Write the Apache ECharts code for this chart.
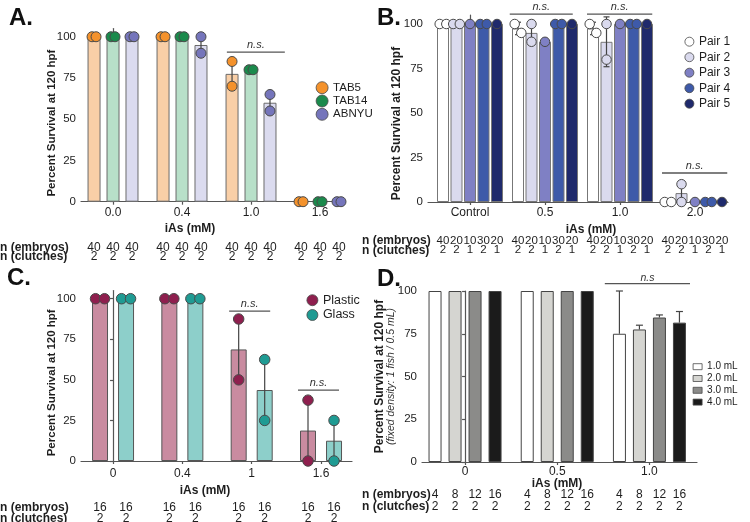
<!DOCTYPE html>
<html>
<head>
<meta charset="utf-8">
<script src="https://cdn.jsdelivr.net/npm/echarts@6/dist/echarts.min.js"></script>
<style>
html,body{margin:0;padding:0;background:#fff;}
#main{width:750px;height:522px;}
</style>
</head>
<body>
<div id="main"></div>
<script>
// ---------- A. strains ----------
let catsA = ['0.0', '0.4', '1.0', '1.6'];
let tab5Mean = [100, 100, 77.5, 0];
let tab5Err = [0, 0, 7.5, 0];
let tab5Pts = [[100, 100], [100, 100], [85, 70], [0, 0]];
let tab14Mean = [100, 100, 80, 0];
let tab14Err = [0, 0, 0, 0];
let tab14Pts = [[100, 100], [100, 100], [80, 80], [0, 0]];
let abnyuMean = [100, 95, 60, 0];
let abnyuErr = [0, 5, 5, 0];
let abnyuPts = [[100, 100], [100, 90], [65, 55], [0, 0]];
let embryosA = [[40, 40, 40], [40, 40, 40], [40, 40, 40], [40, 40, 40]];
let clutchesA = [[2, 2, 2], [2, 2, 2], [2, 2, 2], [2, 2, 2]];
let nsA = [[1.65, 2.49, 90.7]];

// ---------- B. pairs ----------
let catsB = ['Control', '0.5', '1.0', '2.0'];
let pair1Mean = [100, 97.5, 97.5, 0];
let pair1Err = [0, 3.5, 3.5, 0];
let pair1Pts = [[100, 100], [100, 95], [100, 95], [0, 0]];
let pair2Mean = [100, 95, 90, 5];
let pair2Err = [0, 7, 14, 7];
let pair2Pts = [[100, 100], [100, 90], [100, 80], [10, 0]];
let pair3Mean = [100, 90, 100, 0];
let pair3Err = [0, 0, 0, 0];
let pair3Pts = [[100], [90], [100], [0]];
let pair4Mean = [100, 100, 100, 0];
let pair4Err = [0, 0, 0, 0];
let pair4Pts = [[100, 100], [100, 100], [100, 100], [0, 0]];
let pair5Mean = [100, 100, 100, 0];
let pair5Err = [0, 0, 0, 0];
let pair5Pts = [[100], [100], [100], [0]];
let embryosB = [[40, 20, 10, 30, 20], [40, 20, 10, 30, 20], [40, 20, 10, 30, 20], [40, 20, 10, 30, 20]];
let clutchesB = [[2, 2, 1, 2, 1], [2, 2, 1, 2, 1], [2, 2, 1, 2, 1], [2, 2, 1, 2, 1]];
let nsB = [[0.53, 1.37, 105.6], [1.56, 2.43, 105.6], [2.56, 3.43, 16.3]];

// ---------- C. dish material ----------
let catsC = ['0', '0.4', '1', '1.6'];
let plasticMean = [100, 100, 68.75, 18.75];
let plasticErr = [0, 0, 18.75, 18.75];
let plasticPts = [[100, 100], [100, 100], [87.5, 50], [37.5, 0]];
let glassMean = [100, 100, 43.75, 12.5];
let glassErr = [0, 0, 18.75, 12.5];
let glassPts = [[100, 100], [100, 100], [62.5, 25], [25, 0]];
let embryosC = [[16, 16], [16, 16], [16, 16], [16, 16]];
let clutchesC = [[2, 2], [2, 2], [2, 2], [2, 2]];
let nsC = [[1.675, 2.267, 92.4], [2.668, 3.26, 43.7]];

// ---------- D. volume ----------
let catsD = ['0', '0.5', '1.0'];
let ml1Mean = [100, 100, 75];
let ml1Err = [0, 0, 25];
let ml2Mean = [100, 100, 77.5];
let ml2Err = [0, 0, 2.5];
let ml3Mean = [100, 100, 84.5];
let ml3Err = [0, 0, 1.5];
let ml4Mean = [100, 100, 81.5];
let ml4Err = [0, 0, 6.5];
let embryosD = [[4, 8, 12, 16], [4, 8, 12, 16], [4, 8, 12, 16]];
let clutchesD = [[2, 2, 2, 2], [2, 2, 2, 2], [2, 2, 2, 2]];
let nsD = [[1.516, 2.44, 104.3]];

let fontFam = '"Liberation Sans", Arial, Helvetica, sans-serif';
let txt = '#1e1e1e';
let axisCol = '#555';

let option = {
    animation: false,
    backgroundColor: '#fff',
    textStyle: {fontFamily: fontFam},
    title: [], legend: [], grid: [], xAxis: [], yAxis: [], series: []
};

function errRender(cap, upOnly) {
    return function (params, api) {
        let x = api.value(0), m = api.value(1), e = api.value(2);
        let top = api.coord([x, m + e]);
        let bot = api.coord([x, upOnly ? m : m - e]);
        let st = {stroke: '#444', lineWidth: 1.2};
        let kids = [{type: 'line', shape: {x1: top[0], y1: top[1], x2: bot[0], y2: bot[1]}, style: st}];
        if (cap) {
            kids.push({type: 'line', shape: {x1: top[0] - cap / 2, y1: top[1], x2: top[0] + cap / 2, y2: top[1]}, style: st});
            if (!upOnly) kids.push({type: 'line', shape: {x1: bot[0] - cap / 2, y1: bot[1], x2: bot[0] + cap / 2, y2: bot[1]}, style: st});
        }
        return {type: 'group', children: kids};
    };
}

function nsRender(label, fs, lift) {
    return function (params, api) {
        let a = api.coord([api.value(0), api.value(2)]);
        let b = api.coord([api.value(1), api.value(2)]);
        return {type: 'group', children: [
            {type: 'line', shape: {x1: a[0], y1: a[1], x2: b[0], y2: b[1]}, style: {stroke: '#555', lineWidth: 1.3}},
            {type: 'text', x: (a[0] + b[0]) / 2, y: a[1] - lift,
             style: {text: label, fontSize: fs, fontStyle: 'italic', fontFamily: fontFam, fill: '#333', align: 'center', verticalAlign: 'bottom'}}
        ]};
    };
}

function nRender(fs) {
    return function (params, api) {
        let c = api.coord([api.value(0), api.value(1)]);
        return {type: 'text', x: c[0], y: c[1],
            style: {text: String(api.value(2)), fontSize: fs, fontFamily: fontFam, fill: txt, align: 'center', verticalAlign: 'middle'}};
    };
}

function addPanel(p) {
    let gi = option.grid.length;
    option.grid.push({left: p.left, top: p.top, width: p.width, height: p.height, outerBoundsMode: 'none'});
    option.grid.push({left: p.left, top: p.nTop, width: p.width, height: p.nHeight, outerBoundsMode: 'none'});
    let ticks = p.cats.map(function (c, i) { return i; });
    let ppu = p.width / (p.xMax - p.xMin);
    option.xAxis.push({
        type: 'value', gridIndex: gi, min: p.xMin, max: p.xMax,
        axisLine: {show: true, onZero: false, lineStyle: {color: axisCol, width: 1.2}},
        axisTick: {show: true, length: 3, customValues: ticks, lineStyle: {color: axisCol, width: 1.2}},
        axisLabel: {customValues: ticks, formatter: function (v) { return p.cats[Math.round(v)]; },
            fontSize: 12, color: txt, margin: p.catMargin},
        splitLine: {show: false},
        name: 'iAs (mM)', nameLocation: 'middle', nameGap: p.xNameGap, nameMoveOverlap: false,
        nameTextStyle: {fontSize: 12, fontWeight: 'bold', color: txt, padding: p.xNamePad}
    });
    option.xAxis.push({type: 'value', gridIndex: gi + 1, min: p.xMin, max: p.xMax, show: false});
    option.yAxis.push({
        type: 'value', gridIndex: gi, min: 0, max: p.yMax,
        axisLine: {show: true, lineStyle: {color: axisCol, width: 1.2}},
        axisTick: {show: true, length: 3, customValues: [0, 25, 50, 75, 100], lineStyle: {color: axisCol, width: 1.2}},
        axisLabel: {customValues: [0, 25, 50, 75, 100], fontSize: 11.5, color: txt, margin: 5},
        splitLine: {show: false},
        name: p.yName, nameLocation: 'middle', nameRotate: 90, nameGap: p.yNameGap, nameMoveOverlap: false,
        nameTextStyle: p.yNameStyle
    });
    option.yAxis.push({
        type: 'category', gridIndex: gi + 1, inverse: true, data: ['n (embryos)', 'n (clutches)'],
        axisLine: {show: false}, axisTick: {show: false}, splitLine: {show: false},
        axisLabel: {interval: 0, hideOverlap: false, align: 'left', margin: p.left - p.headX,
            fontSize: 12, fontWeight: 'bold', color: txt}
    });

    let nData = [];
    p.sets.forEach(function (s, k) {
        let off = p.offsets[k];
        option.series.push({
            name: s.name + (s.pts ? ' mean' : ''), type: 'bar', xAxisIndex: gi, yAxisIndex: gi,
            barWidth: p.barWidth, barGap: '-100%', z: 2,
            itemStyle: {color: s.bar, borderColor: s.border, borderWidth: 1},
            data: s.mean.map(function (v, i) { return [i + off, v]; })
        });
        let errData = [];
        s.err.forEach(function (e, i) { if (e > 0) errData.push([i + off, s.mean[i], e]); });
        option.series.push({
            type: 'custom', xAxisIndex: gi, yAxisIndex: gi, z: 3, silent: true,
            renderItem: errRender(p.cap, p.upOnly), encode: {x: 0, y: 1}, data: errData
        });
        if (s.pts) {
            let ptData = [];
            s.pts.forEach(function (g, i) {
                let j = (g.length === 2 && Math.abs(g[0] - g[1]) < 6) ? p.jitter / ppu : 0;
                g.forEach(function (v, q) {
                    ptData.push([i + off + (g.length === 2 ? (q === 0 ? -j : j) : 0), v]);
                });
            });
            option.series.push({
                name: s.name, type: 'scatter', xAxisIndex: gi, yAxisIndex: gi, z: 4, clip: false,
                symbol: 'circle', symbolSize: p.dot,
                itemStyle: {color: s.dot, borderColor: '#4a4a4a', borderWidth: 1, opacity: 1},
                data: ptData
            });
        }
        p.embryos.forEach(function (g, i) {
            nData.push([i + off, 0, g[k]]);
            nData.push([i + off, 1, p.clutches[i][k]]);
        });
    });
    option.series.push({
        type: 'custom', xAxisIndex: gi + 1, yAxisIndex: gi + 1, silent: true,
        renderItem: nRender(p.nFont), encode: {x: 0, y: 1}, data: nData
    });
    option.series.push({
        type: 'custom', xAxisIndex: gi, yAxisIndex: gi, z: 5, silent: true,
        renderItem: nsRender(p.nsText, p.nsFont, p.nsLift), encode: {x: [0, 1], y: 2}, data: p.ns
    });
    option.title.push({text: p.letter, left: p.titleX, top: p.titleY, padding: 0,
        textStyle: {fontSize: 24, fontWeight: 'bold', color: '#111', fontFamily: fontFam}});
    option.legend.push(Object.assign({
        orient: 'vertical', padding: 0, selectedMode: false,
        data: p.sets.map(function (s) {
            return {name: s.name, itemStyle: {color: s.pts ? s.dot : s.bar, borderColor: '#4a4a4a', borderWidth: 0.8}};
        })
    }, p.legend));
}

let yNameStd = function (pad, fs) {
    return {fontSize: fs, fontWeight: 'bold', color: txt, padding: pad};
};

addPanel({
    letter: 'A.', titleX: 9, titleY: 6,
    left: 81, top: 28.5, width: 262, height: 173.2, yMax: 105,
    nTop: 243.2, nHeight: 18, headX: 0, nFont: 12,
    xMin: -0.464, xMax: 3.333, cats: catsA, catMargin: 5,
    xNameGap: 21, xNamePad: [0, 44, 0, 0],
    yName: 'Percent Survival at 120 hpf', yNameGap: 23, yNameStyle: yNameStd([0, 16, 0, 0], 11.5),
    offsets: [-0.275, 0, 0.275], barWidth: 13, dot: 10, jitter: 2, cap: 4, upOnly: false,
    ns: nsA, nsText: 'n.s.', nsFont: 11, nsLift: 2,
    legend: {left: 315.7, top: 81.3, icon: 'circle', itemWidth: 12, itemHeight: 12, itemGap: 0.5,
        textStyle: {fontSize: 11.5, color: txt}},
    embryos: embryosA, clutches: clutchesA,
    sets: [
        {name: 'TAB5', mean: tab5Mean, err: tab5Err, pts: tab5Pts, bar: '#f9cfa7', dot: '#f4922c', border: '#6b6b6b'},
        {name: 'TAB14', mean: tab14Mean, err: tab14Err, pts: tab14Pts, bar: '#b8e0c9', dot: '#1b8a4c', border: '#6b6b6b'},
        {name: 'ABNYU', mean: abnyuMean, err: abnyuErr, pts: abnyuPts, bar: '#dbdbef', dot: '#7575bb', border: '#6b6b6b'}
    ]
});

addPanel({
    letter: 'B.', titleX: 377, titleY: 6,
    left: 428, top: 15.1, width: 300, height: 186.9, yMax: 105,
    nTop: 236, nHeight: 19, headX: 362, nFont: 11.5,
    xMin: -0.56, xMax: 3.44, cats: catsB, catMargin: 5,
    xNameGap: 22, xNamePad: [0, 0, 0, 26],
    yName: 'Percent Survival at 120 hpf', yNameGap: 25, yNameStyle: yNameStd([0, 30, 0, 0], 12),
    offsets: [-0.36, -0.18, 0, 0.18, 0.36], barWidth: 12, dot: 9.5, jitter: 3.3, cap: 6, upOnly: false,
    ns: nsB, nsText: 'n.s.', nsFont: 11, nsLift: 2,
    legend: {left: 684.5, top: 35.7, icon: 'circle', itemWidth: 9, itemHeight: 9, itemGap: 3.5,
        textStyle: {fontSize: 12, color: txt}},
    embryos: embryosB, clutches: clutchesB,
    sets: [
        {name: 'Pair 1', mean: pair1Mean, err: pair1Err, pts: pair1Pts, bar: '#ffffff', dot: '#ffffff', border: '#777'},
        {name: 'Pair 2', mean: pair2Mean, err: pair2Err, pts: pair2Pts, bar: '#dadaee', dot: '#dadaee', border: '#777'},
        {name: 'Pair 3', mean: pair3Mean, err: pair3Err, pts: pair3Pts, bar: '#7f80c4', dot: '#7f80c4', border: '#777'},
        {name: 'Pair 4', mean: pair4Mean, err: pair4Err, pts: pair4Pts, bar: '#3e5aa9', dot: '#3e5aa9', border: '#777'},
        {name: 'Pair 5', mean: pair5Mean, err: pair5Err, pts: pair5Pts, bar: '#1f2a6c', dot: '#1f2a6c', border: '#777'}
    ]
});

addPanel({
    letter: 'C.', titleX: 7, titleY: 266,
    left: 81, top: 290.6, width: 271, height: 170.4, yMax: 105,
    nTop: 502.2, nHeight: 22, headX: 0, nFont: 12,
    xMin: -0.462, xMax: 3.447, cats: catsC, catMargin: 6.5,
    xNameGap: 24, xNamePad: [0, 23, 0, 0],
    yName: 'Percent Survival at 120 hpf', yNameGap: 23, yNameStyle: yNameStd([0, 14, 0, 0], 11.5),
    offsets: [-0.1876, 0.1876], barWidth: 16, dot: 10.5, jitter: 4.5, cap: 0, upOnly: false,
    ns: nsC, nsText: 'n.s.', nsFont: 11, nsLift: 2,
    legend: {left: 306.5, top: 293.7, icon: 'circle', itemWidth: 11, itemHeight: 11, itemGap: 1.8,
        textStyle: {fontSize: 12.5, color: txt}},
    embryos: embryosC, clutches: clutchesC,
    sets: [
        {name: 'Plastic', mean: plasticMean, err: plasticErr, pts: plasticPts, bar: '#c98ba0', dot: '#8e1f4e', border: '#555'},
        {name: 'Glass', mean: glassMean, err: glassErr, pts: glassPts, bar: '#8dcfca', dot: '#1f9b93', border: '#555'}
    ]
});

addPanel({
    letter: 'D.', titleX: 377, titleY: 267,
    left: 422, top: 291, width: 275, height: 171, yMax: 100,
    nTop: 488, nHeight: 25.4, headX: 362, nFont: 12,
    xMin: -0.467, xMax: 2.516, cats: catsD, catMargin: 3.7,
    xNameGap: 16, xNamePad: [0, 5, 0, 0],
    yName: '{b|Percent Survival at 120 hpf}\n{i|(fixed density: 1 fish / 0.5 mL)}', yNameGap: 25,
    yNameStyle: {color: txt, rich: {
        b: {fontSize: 12, fontWeight: 'bold', color: txt, lineHeight: 12},
        i: {fontSize: 10.5, fontStyle: 'italic', color: '#333', lineHeight: 11}}},
    offsets: [-0.3255, -0.1085, 0.1085, 0.3255], barWidth: 13, dot: 0, jitter: 0, cap: 7, upOnly: true,
    ns: nsD, nsText: 'n.s', nsFont: 10.5, nsLift: 0.5,
    legend: {left: 692.7, top: 361.7, icon: 'rect', itemWidth: 9, itemHeight: 6, itemGap: 1.8,
        textStyle: {fontSize: 10, color: txt}},
    embryos: embryosD, clutches: clutchesD,
    sets: [
        {name: '1.0 mL', mean: ml1Mean, err: ml1Err, bar: '#ffffff', border: '#444'},
        {name: '2.0 mL', mean: ml2Mean, err: ml2Err, bar: '#d5d5d1', border: '#444'},
        {name: '3.0 mL', mean: ml3Mean, err: ml3Err, bar: '#8b8b89', border: '#444'},
        {name: '4.0 mL', mean: ml4Mean, err: ml4Err, bar: '#1b1b1b', border: '#444'}
    ]
});

let chart = echarts.init(document.getElementById('main'));
chart.setOption(option);
</script>
</body>
</html>
